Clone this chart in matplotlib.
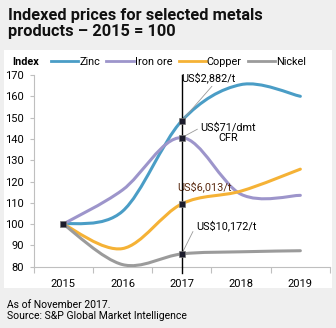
import matplotlib
matplotlib.use('Agg')
import matplotlib.pyplot as plt
from matplotlib.path import Path
from matplotlib.patches import PathPatch, Rectangle
from matplotlib.lines import Line2D

plt.rcParams['font.family'] = ['Roboto', 'DejaVu Sans']

years = ['2015', '2016', '2017', '2018', '2019']
zinc = [100, 106, 148.5, 165.5, 160]
iron_ore = [100, 116, 140.6, 114, 113.5]
copper = [100, 88.5, 109.5, 115.5, 125.8]
nickel = [100, 81, 86, 87, 87.5]

series = [('Zinc', zinc, '#4a9dc6'),
          ('Iron ore', iron_ore, '#9d95cb'),
          ('Copper', copper, '#f5b236'),
          ('Nickel', nickel, '#9b9b9b')]


def smooth_path(xs, ys):
    # Excel-like smoothed line: cubic bezier segments through the points
    pts = list(zip(xs, ys))
    n = len(pts)
    verts = [pts[0]]
    codes = [Path.MOVETO]
    for i in range(n - 1):
        p0 = pts[i - 1] if i > 0 else pts[i]
        p1 = pts[i]
        p2 = pts[i + 1]
        p3 = pts[i + 2] if i + 2 < n else pts[i + 1]
        c1 = (p1[0] + (p2[0] - p0[0]) / 6, p1[1] + (p2[1] - p0[1]) / 6)
        c2 = (p2[0] - (p3[0] - p1[0]) / 6, p2[1] - (p3[1] - p1[1]) / 6)
        verts += [c1, c2, p2]
        codes += [Path.CURVE4] * 3
    return Path(verts, codes)


fig = plt.figure(figsize=(3.36, 3.28), dpi=100, facecolor='#efefef')
fig.patches.append(Rectangle((4 / 336, 1 - 288 / 328), 328 / 336, 238 / 328,
                             transform=fig.transFigure, facecolor='white',
                             edgecolor='none', zorder=-10))

ax = fig.add_axes([33.5 / 336, 1 - 266.7 / 328, 296.5 / 336, 191.7 / 328])
ax.set_facecolor('none')

x = list(range(len(years)))
handles = []
for name, vals, col in series:
    ax.add_patch(PathPatch(smooth_path(x, vals), fill=False, edgecolor=col,
                           lw=2.2, capstyle='round', zorder=3))
    handles.append(Line2D([], [], color=col, lw=2, label=name))

# markers at 2015 and 2017
ax.plot([0], [zinc[0]], 's', color='#1c1c2c', ms=5, mec='#777777', mew=0.5, zorder=5)
for name, vals, col in series:
    ax.plot([2], [vals[2]], 's', color='#1c1c2c', ms=5, mec='#777777', mew=0.5, zorder=5)

ax.plot([2, 2], [77, 170], color='black', lw=1, clip_on=False, zorder=4)

ax.set_xlim(-0.5, 4.5)
ax.set_ylim(80, 170)
ax.set_yticks(range(80, 171, 10))
ax.set_xticks(x)
ax.set_xticklabels(years)
ax.set_xticks([i - 0.5 for i in range(len(years) + 1)], minor=True)
ax.tick_params(axis='x', which='major', length=0, pad=9, labelsize=8)
ax.tick_params(axis='x', which='minor', length=4, color='#bfbfbf', width=0.8)
ax.tick_params(axis='y', length=3, color='#bfbfbf', width=0.8, pad=4, labelsize=8)
for s in ['top', 'right']:
    ax.spines[s].set_visible(False)
for s in ['left', 'bottom']:
    ax.spines[s].set_color('#bfbfbf')
    ax.spines[s].set_linewidth(0.8)

lead = dict(arrowstyle='-', color='#999999', lw=0.6, shrinkA=0, shrinkB=0)
ax.annotate('US$2,882/t', xy=(2, zinc[2]), xytext=(2.0, 168.6), fontsize=7.8,
            ha='left', va='center', arrowprops=dict(lead, relpos=(0.6, 0)))
ax.annotate('US$71/dmt\nCFR', xy=(2, iron_ore[2]), xytext=(2.78, 142.8), fontsize=7.8,
            ha='center', va='center', linespacing=1.1,
            arrowprops=dict(lead, relpos=(0, 0.75)))
ax.text(1.92, 117.4, 'US$6,013/t', fontsize=7.8, color='#5a2a10', ha='left', va='center')
ax.annotate('US$10,172/t', xy=(2, nickel[2]), xytext=(2.24, 99.1), fontsize=7.8,
            ha='left', va='center', arrowprops=dict(lead, relpos=(-0.05, 0)))

fig.text(8 / 336, 1 - 8 / 328, 'Indexed prices for selected metals\nproducts \u2013 2015 = 100',
         fontsize=11.8, fontweight='bold', ha='left', va='top', linespacing=1.1,
         color='#111111')
fig.text(12 / 336, 1 - 62 / 328, 'Index', fontsize=7.8, fontweight='bold', ha='left', va='center')
fig.legend(handles=handles, loc='center left', bbox_to_anchor=(51 / 336, 1 - 62 / 328),
           ncol=4, frameon=False, fontsize=7.8, handlelength=2.5, handletextpad=0.1,
           columnspacing=0.6, borderpad=0, borderaxespad=0)

fig.text(7 / 336, 1 - 305 / 328, 'As of November 2017.', fontsize=7.5, ha='left', va='center')
fig.text(7 / 336, 1 - 316 / 328, 'Source: S&P Global Market Intelligence', fontsize=7.5,
         ha='left', va='center')

plt.savefig('out.png', dpi=100, facecolor=fig.get_facecolor())
